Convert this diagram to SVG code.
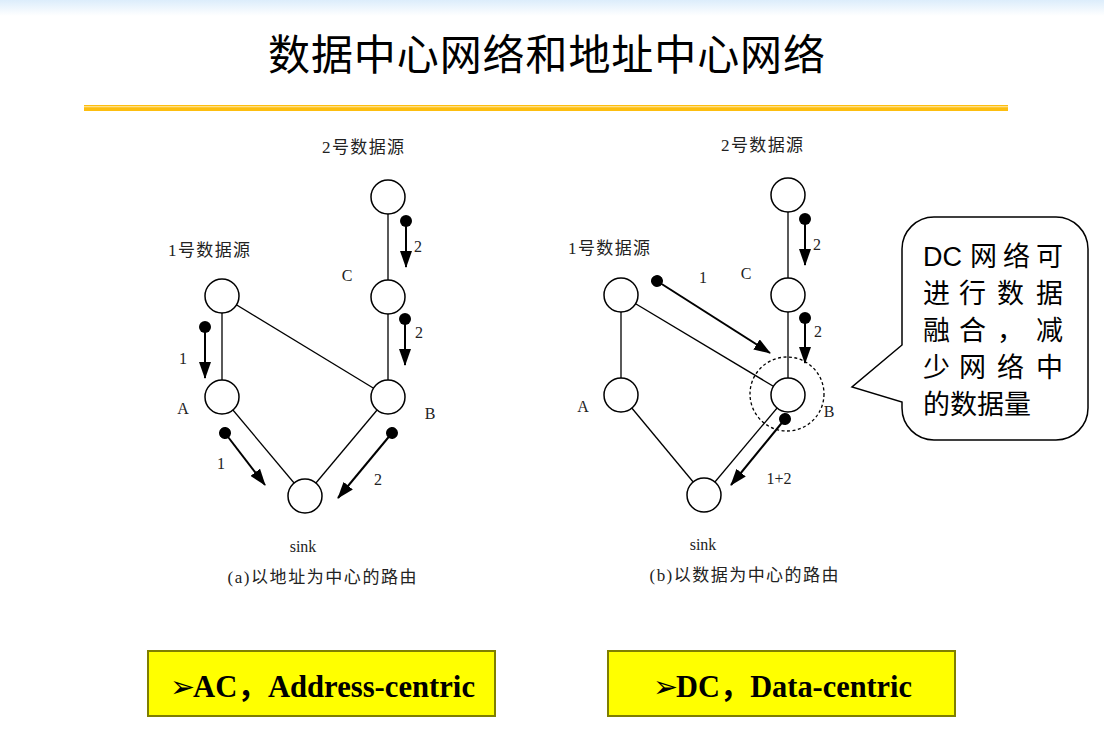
<svg xmlns="http://www.w3.org/2000/svg" width="1104" height="746" viewBox="0 0 1104 746">
  <defs>
    <linearGradient id="topfade" x1="0" y1="0" x2="0" y2="1">
      <stop offset="0" stop-color="#DCEDFB"/>
      <stop offset="1" stop-color="#FFFFFF"/>
    </linearGradient>
    <marker id="head" viewBox="0 0 17 12" refX="16" refY="6" markerWidth="17" markerHeight="12" markerUnits="userSpaceOnUse" orient="auto">
      <path d="M0,0 L17,6 L0,12 Z" fill="#000"/>
    </marker>
    <marker id="dot" viewBox="0 0 12 12" refX="6" refY="6" markerWidth="12" markerHeight="12" markerUnits="userSpaceOnUse" orient="auto">
      <circle cx="6" cy="6" r="6" fill="#000"/>
    </marker>
  </defs>
  <style>
    .node { fill: #fff; stroke: #000; stroke-width: 1.5; }
    .edge { stroke: #000; stroke-width: 1.3; fill: none; }
    .flow { stroke: #000; stroke-width: 2; fill: none; marker-start: url(#dot); marker-end: url(#head); }
    .lbl { font-family: "Liberation Serif", "Noto Sans CJK SC", serif; font-size: 16px; fill: #222; }
    .cap { font-family: "Liberation Serif", "Noto Sans CJK SC", serif; font-size: 17px; fill: #222; }
    .title { font-family: "Noto Sans CJK SC", sans-serif; font-size: 42px; fill: #000; }
    .note { font-family: "Liberation Sans", "Noto Sans CJK SC", sans-serif; font-size: 27px; fill: #000; }
    .tag { fill: #FFFF00; stroke: #7F7F00; stroke-width: 2; }
    .tagtxt { font-family: "Liberation Serif", "Noto Sans CJK SC", serif; font-size: 31px; font-weight: bold; fill: #000; }
    .bullet { font-family: "DejaVu Sans", sans-serif; font-size: 30px; fill: #000; }
  </style>

  <!-- page header -->
  <rect x="0" y="0" width="1104" height="16" fill="url(#topfade)"/>
  <text class="title" x="268" y="70" textLength="557" lengthAdjust="spacing">数据中心网络和地址中心网络</text>
  <rect x="84" y="105" width="924" height="6" fill="#FDBE0F"/>
  <rect x="84" y="106" width="924" height="1.3" fill="#FFE08A"/>

  <!-- (a) address-centric routing -->
  <g id="diagram-a">
    <g id="a-edges">
      <line class="edge" x1="388" y1="197" x2="388" y2="297"/>
      <line class="edge" x1="388" y1="297" x2="388" y2="397"/>
      <line class="edge" x1="222" y1="296" x2="222" y2="397"/>
      <line class="edge" x1="222" y1="296" x2="388" y2="397"/>
      <line class="edge" x1="222" y1="397" x2="305" y2="496"/>
      <line class="edge" x1="388" y1="397" x2="305" y2="496"/>
    </g>
    <g id="a-src2"><circle class="node" cx="388" cy="197" r="17"/><text class="cap" x="363" y="153" text-anchor="middle" textLength="82">2号数据源</text></g>
    <g id="a-C"><circle class="node" cx="388" cy="297" r="17"/><text class="lbl" x="347" y="281" text-anchor="middle">C</text></g>
    <g id="a-src1"><circle class="node" cx="222" cy="296" r="17"/><text class="cap" x="209" y="256" text-anchor="middle" textLength="82">1号数据源</text></g>
    <g id="a-A"><circle class="node" cx="222" cy="397" r="17"/><text class="lbl" x="183" y="414" text-anchor="middle">A</text></g>
    <g id="a-B"><circle class="node" cx="388" cy="397" r="17"/><text class="lbl" x="430" y="419" text-anchor="middle">B</text></g>
    <g id="a-sink"><circle class="node" cx="305" cy="496" r="17"/><text class="lbl" x="303" y="552" text-anchor="middle">sink</text></g>
    <g id="a-flows">
      <line class="flow" x1="205" y1="327" x2="205" y2="378"/>
      <text class="lbl" x="183" y="364" text-anchor="middle">1</text>
      <line class="flow" x1="406" y1="221" x2="406" y2="267"/>
      <text class="lbl" x="418" y="252" text-anchor="middle">2</text>
      <line class="flow" x1="405" y1="319" x2="405" y2="365"/>
      <text class="lbl" x="419" y="338" text-anchor="middle">2</text>
      <line class="flow" x1="225" y1="433" x2="265" y2="485"/>
      <text class="lbl" x="221" y="469" text-anchor="middle">1</text>
      <line class="flow" x1="392" y1="433" x2="338" y2="498"/>
      <text class="lbl" x="378" y="485" text-anchor="middle">2</text>
    </g>
    <text class="cap" x="322" y="583" text-anchor="middle" textLength="189">(a)以地址为中心的路由</text>
  </g>

  <!-- (b) data-centric routing -->
  <g id="diagram-b">
    <g id="b-edges">
      <line class="edge" x1="788" y1="195" x2="788" y2="295"/>
      <line class="edge" x1="788" y1="295" x2="788" y2="395"/>
      <line class="edge" x1="621" y1="295" x2="621" y2="395"/>
      <line class="edge" x1="621" y1="295" x2="788" y2="395"/>
      <line class="edge" x1="621" y1="395" x2="704" y2="495"/>
      <line class="edge" x1="788" y1="395" x2="704" y2="495"/>
    </g>
    <g id="b-src2"><circle class="node" cx="788" cy="195" r="17"/><text class="cap" x="762" y="151" text-anchor="middle" textLength="82">2号数据源</text></g>
    <g id="b-C"><circle class="node" cx="788" cy="295" r="17"/><text class="lbl" x="746" y="279" text-anchor="middle">C</text></g>
    <g id="b-src1"><circle class="node" cx="621" cy="295" r="17"/><text class="cap" x="609" y="254" text-anchor="middle" textLength="82">1号数据源</text></g>
    <g id="b-A"><circle class="node" cx="621" cy="395" r="17"/><text class="lbl" x="583" y="412" text-anchor="middle">A</text></g>
    <g id="b-B">
      <circle class="node" cx="788" cy="395" r="17"/>
      <circle cx="787" cy="394" r="37" fill="none" stroke="#000" stroke-width="1.3" stroke-dasharray="3,2.5"/>
      <text class="lbl" x="829" y="417" text-anchor="middle">B</text>
    </g>
    <g id="b-sink"><circle class="node" cx="704" cy="495" r="17"/><text class="lbl" x="703" y="550" text-anchor="middle">sink</text></g>
    <g id="b-flows">
      <line class="flow" x1="805" y1="219" x2="805" y2="265"/>
      <text class="lbl" x="817" y="250" text-anchor="middle">2</text>
      <line class="flow" x1="657" y1="281" x2="770" y2="353"/>
      <text class="lbl" x="703" y="283" text-anchor="middle">1</text>
      <line class="flow" x1="805" y1="318" x2="805" y2="363"/>
      <text class="lbl" x="818" y="337" text-anchor="middle">2</text>
      <line class="flow" x1="785" y1="419" x2="731" y2="485"/>
      <text class="lbl" x="779" y="484" text-anchor="middle">1+2</text>
    </g>
    <text class="cap" x="744" y="581" text-anchor="middle" textLength="189">(b)以数据为中心的路由</text>
  </g>

  <!-- speech-bubble note -->
  <g id="note">
    <path d="M934,217 H1056 A32,32 0 0 1 1088,249 V408 A32,32 0 0 1 1056,440 H934 A32,32 0 0 1 902,408 V402 L852,387 L902,345 V249 A32,32 0 0 1 934,217 Z" fill="#fff" stroke="#000" stroke-width="1.5"/>
    <text class="note" y="266"><tspan x="923">DC</tspan><tspan x="970 1003 1036">网络可</tspan></text>
    <text class="note" y="303" x="923 959 997 1036">进行数据</text>
    <text class="note" y="340" x="923 959 997 1036">融合，减</text>
    <text class="note" y="377" x="923 959 997 1036">少网络中</text>
    <text class="note" x="923" y="414">的数据量</text>
  </g>

  <!-- summary tags -->
  <g id="tag-ac">
    <rect class="tag" x="148" y="651" width="347" height="65"/>
    <text class="bullet" x="170" y="697">➢</text>
    <text class="tagtxt" x="193" y="697" textLength="282" lengthAdjust="spacingAndGlyphs">AC，Address-centric</text>
  </g>
  <g id="tag-dc">
    <rect class="tag" x="608" y="651" width="347" height="65"/>
    <text class="bullet" x="653" y="697">➢</text>
    <text class="tagtxt" x="676" y="697" textLength="236" lengthAdjust="spacingAndGlyphs">DC，Data-centric</text>
  </g>
</svg>
